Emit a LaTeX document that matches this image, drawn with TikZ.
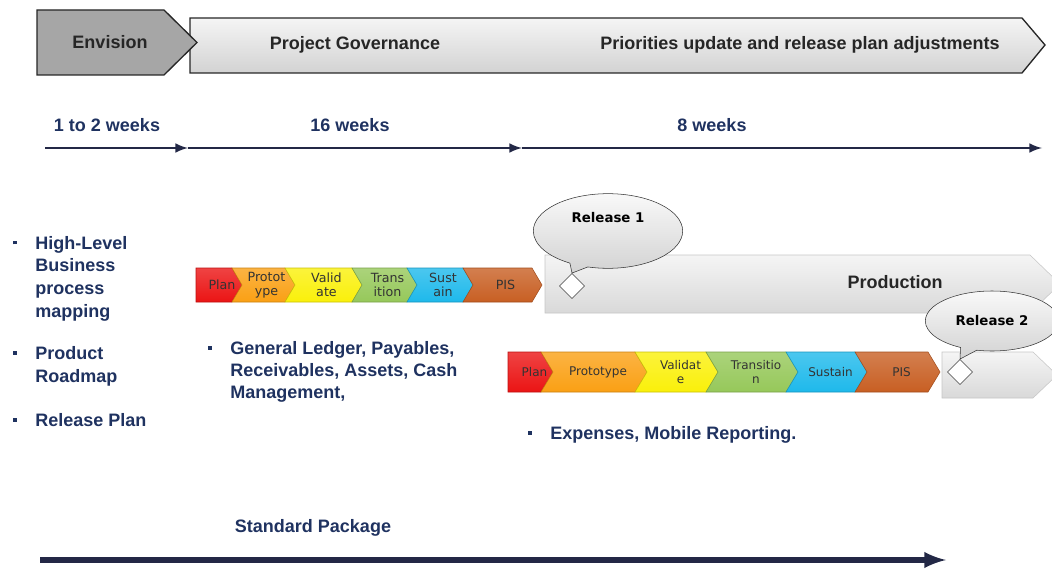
\documentclass[tikz,border=0pt]{standalone}
\usepackage{fontspec}
\setmainfont{Liberation Sans}
\newfontfamily\chevfont{DejaVu Sans}
\usepackage{tikz}
\usetikzlibrary{shapes.geometric,shapes.callouts,positioning}

\definecolor{navy}{RGB}{31,50,96}
\definecolor{lineblue}{RGB}{35,40,70}
\definecolor{cplan}{RGB}{235,20,20}
\definecolor{cproto}{RGB}{250,160,20}
\definecolor{cvalid}{RGB}{250,240,10}
\definecolor{ctrans}{RGB}{150,200,90}
\definecolor{csust}{RGB}{30,185,235}
\definecolor{cpis}{RGB}{200,95,35}

\newcommand{\bulletmark}{\llap{\rule[0.28em]{2.6pt}{2.6pt}\hspace{13.9pt}}}

\begin{document}
\begin{tikzpicture}[>=latex, x=0.75pt, y=-0.75pt,
    head/.style={font=\bfseries\fontsize{13.5}{16}\selectfont, text=black!85},
    weeks/.style={font=\bfseries\fontsize{13.5}{16}\selectfont, text=navy},
    bullets/.style={anchor=north west, inner sep=0pt, align=left, text=navy},
    chevlbl/.style={font=\chevfont\fontsize{9.5}{10.5}\selectfont, align=center, inner sep=0pt, text=black!80},
    release/.style={ellipse callout, draw=black!80, top color=gray!5, bottom color=gray!35,
        font=\chevfont\bfseries\fontsize{10}{11}\selectfont},
    mile/.style={diamond, draw=black!75, fill=white, minimum size=19pt, inner sep=0pt},
    timeline/.style={->, draw=lineblue, line width=2.2pt}]

        \useasboundingbox (0,0) rectangle (1052,570);
        \clip (0,0) rectangle (1052,570);

        % header
        \draw[black!85, line width=1pt, top color=gray!8, bottom color=gray!35]
            (190,18) -- (1022,18) -- (1045,45) -- (1022,73) -- (190,73) -- cycle;
        \draw[black!85, line width=1pt, fill=black!35]
            (37,10) -- (164,10) -- (197,42.5) -- (164,75) -- (37,75) -- cycle;
        \node[head] (env) at (110,42) {Envision};
        \node[head] (gov) at (355,45) {Project Governance};
        \node[head] (prio) at (800,45) {Priorities update and release plan adjustments};

        % durations
        \node[weeks] (w1) at (107,125) {1 to 2 weeks};
        \node[weeks] (w2) at (350,125) {16 weeks};
        \node[weeks] (w3) at (712,125) {8 weeks};
        \coordinate (t0) at (45,148);
        \coordinate (t1) at (188,148);
        \coordinate (t2) at (522,148);
        \coordinate (t3) at (1042,148);
        \draw[timeline] (t0) -- (t1);
        \draw[timeline] (t1) -- (t2);
        \draw[timeline] (t2) -- (t3);

        % production bars
        \draw[gray!45, top color=gray!8, bottom color=gray!30]
            (545,255) -- (1030,255) -- (1060,284) -- (1030,313) -- (545,313) -- cycle;
        \node[head] (prod) at (895,282) {Production};
        \draw[gray!45, top color=gray!8, bottom color=gray!30]
            (942,352) -- (1033,352) -- (1057,375) -- (1033,398) -- (942,398) -- cycle;

        % first release
        \foreach \l/\p/\n/\c/\t [count=\i] in {196/242/0/cplan/Plan, 232/295/10/cproto/{Protot\\ype},
            285/362/10/cvalid/{Valid\\ate}, 352/417/10/ctrans/{Trans\\ition}, 407/473/10/csust/{Sust\\ain},
            463/542/10/cpis/PIS}
        {
            \draw[\c!80!black, top color=\c!80!white, bottom color=\c]
                (\l,268) -- (\p-10,268) -- (\p,285) -- (\p-10,302) -- (\l,302) -- (\l+\n,285) -- cycle;
            \node[chevlbl] (ra\i) at ({(\l+\p)/2+3},285) {\t};
        }

        % second release
        \foreach \l/\p/\n/\c/\t [count=\i] in {508/553/0/cplan/Plan, 541/647/12/cproto/Prototype,
            635/718/12/cvalid/{Validat\\e}, 706/798/12/ctrans/{Transitio\\n}, 786/867/12/csust/Sustain,
            855/940/12/cpis/PIS}
        {
            \draw[\c!80!black, top color=\c!80!white, bottom color=\c]
                (\l,352) -- (\p-12,352) -- (\p,372) -- (\p-12,392) -- (\l,392) -- (\l+\n,372) -- cycle;
            \node[chevlbl, font=\chevfont\fontsize{9}{10.5}\selectfont] (rb\i) at ({(\l+\p)/2+4},372) {\t};
        }

        % milestones
        \node[mile] (d1) at (572,286) {};
        \node[release, minimum width=112pt, minimum height=56pt, text depth=20pt,
            callout absolute pointer=(d1.north)] (rel1) at (608,231) {Release 1};
        \node[mile] (d2) at (960,372) {};
        \node[release, minimum width=100pt, minimum height=45pt,
            callout absolute pointer=(d2.north)] (rel2) at (992,321) {Release 2};

        % scope lists
        \node[bullets, font=\bfseries\fontsize{13.5}{17}\selectfont] (hl) at (35,236)
            {\bulletmark High-Level\\Business\\process\\mapping};
        \node[bullets, font=\bfseries\fontsize{13.5}{17}\selectfont] (road) at (35,346.5)
            {\bulletmark Product\\Roadmap};
        \node[bullets, font=\bfseries\fontsize{13.5}{17}\selectfont] (rp) at (35,413.5)
            {\bulletmark Release Plan};
        \node[bullets, font=\bfseries\fontsize{13.5}{16.5}\selectfont] (gl) at (230,341.5)
            {\bulletmark General Ledger, Payables,\\Receivables, Assets, Cash\\Management,};
        \node[bullets, font=\bfseries\fontsize{13.5}{16.5}\selectfont] (exp) at (550,426.5)
            {\bulletmark Expenses, Mobile Reporting.};

        % standard package
        \node[weeks] (std) at (313,528) {Standard Package};
        \coordinate (s0) at (40,560);
        \coordinate (s1) at (946,560);
        \draw[->, draw=lineblue, line width=4.5pt] (s0) -- (s1);
    \end{tikzpicture}
\end{document}
